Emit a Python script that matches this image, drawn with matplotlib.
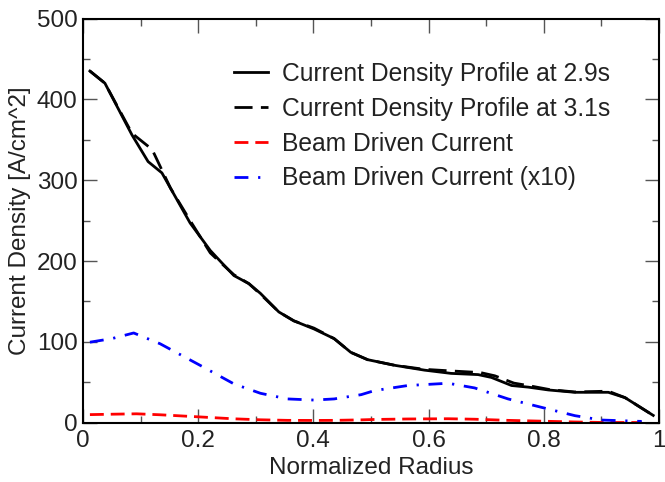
import matplotlib
matplotlib.use("Agg")
import matplotlib.pyplot as plt
from matplotlib.ticker import MultipleLocator, FuncFormatter

plt.rcParams['font.family'] = ['Liberation Sans', 'DejaVu Sans']

# Current density profile at 2.9s
r_29 = [0.012, 0.038, 0.085, 0.113, 0.137, 0.186, 0.221, 0.242, 0.262, 0.288, 0.308,
        0.340, 0.366, 0.401, 0.436, 0.465, 0.494, 0.541, 0.593, 0.639, 0.686, 0.709,
        0.744, 0.773, 0.808, 0.854, 0.912, 0.941, 0.990]
j_29 = [435, 420, 356, 323, 309, 247, 213, 197, 182, 172, 160,
        137, 126, 116, 104, 87, 78, 71, 65, 61, 59.5, 56,
        46, 44, 40.5, 37.6, 37.6, 31, 9]

# Current density profile at 3.1s
r_31 = [0.012, 0.038, 0.085, 0.120, 0.152, 0.186, 0.221, 0.242, 0.262, 0.288, 0.308,
        0.340, 0.366, 0.401, 0.436, 0.465, 0.494, 0.541, 0.593, 0.640, 0.690, 0.715,
        0.748, 0.780, 0.810, 0.854, 0.912, 0.941, 0.990]
j_31 = [435, 420, 358, 338, 290, 250, 210, 196, 183, 172, 159,
        137, 126, 117, 104, 87, 78, 71, 66, 64, 62, 58,
        49, 45, 41, 38, 39, 31, 9]

# Beam driven current
r_nb = [0.012, 0.05, 0.093, 0.134, 0.204, 0.262, 0.308, 0.355, 0.401, 0.436, 0.483,
        0.506, 0.564, 0.634, 0.680, 0.738, 0.796, 0.854, 0.900, 0.970]
j_nb = [10.0, 10.5, 11.0, 9.8, 7.1, 4.8, 3.6, 2.9, 2.8, 2.9, 3.5,
        4.0, 4.6, 4.9, 4.3, 2.9, 1.9, 0.9, 0.3, 0.2]

# Beam driven current (x10)
r_nb10 = [0.012, 0.05, 0.088, 0.134, 0.204, 0.262, 0.308, 0.355, 0.401, 0.436, 0.483,
          0.506, 0.564, 0.634, 0.680, 0.738, 0.796, 0.854, 0.900, 0.970]
j_nb10 = [99.6, 104, 111, 97.6, 70.7, 48, 36.4, 29.4, 28, 29.4, 34.7,
          39.7, 46, 48.8, 43, 29.4, 19, 8.7, 3.3, 1.6]

labels = ["Current Density Profile at 2.9s", "Current Density Profile at 3.1s",
          "Beam Driven Current", "Beam Driven Current (x10)"]

W, H = 665, 482
fig = plt.figure(figsize=(W / 100, H / 100), dpi=100)
L, R, T, B = 83, 659, 18.5, 422.7
ax = fig.add_axes([L / W, 1 - B / H, (R - L) / W, (B - T) / H])

ax.plot(r_29, j_29, color='black', lw=2.0, label=labels[0])
ax.plot(r_31, j_31, color='black', lw=2.0, dashes=(6.5, 3), label=labels[1])
ax.plot(r_nb, j_nb, color='red', lw=2.0, dashes=(5, 2.5), label=labels[2])
ax.plot(r_nb10, j_nb10, color='blue', lw=2.0, dashes=(5, 3.5, 0.8, 3.5), label=labels[3])

ax.set_xlim(0, 1)
ax.set_ylim(0, 500)
ax.xaxis.set_major_locator(MultipleLocator(0.2))
ax.xaxis.set_minor_locator(MultipleLocator(0.1))
ax.yaxis.set_major_locator(MultipleLocator(100))
ax.yaxis.set_minor_locator(MultipleLocator(50))
ax.xaxis.set_major_formatter(FuncFormatter(lambda v, p: f"{v:g}"))

ax.tick_params(which='both', direction='in', top=True, right=True,
               labelsize=17.5, color='#555555', width=1.0, labelcolor='#222222')
ax.tick_params(axis='x', which='both', pad=5)
ax.tick_params(axis='y', which='both', pad=4)
ax.tick_params(which='major', length=10)
ax.tick_params(which='minor', length=5)
for s in ax.spines.values():
    s.set_linewidth(1.5)

ax.set_xlabel("Normalized Radius", fontsize=17.5, color='#222222', labelpad=4)
ax.set_ylabel("Current Density [A/cm^2]", fontsize=17.5, color='#222222', labelpad=4)

leg = ax.legend(loc='upper left', bbox_to_anchor=((234 - L) / (R - L), (B - 62) / (B - T)),
                frameon=False, fontsize=17.7, handlelength=1.4, handletextpad=0.55,
                labelspacing=0.44, borderpad=0, borderaxespad=0)
for t in leg.get_texts():
    t.set_color('#222222')

fig.savefig("out.png", dpi=100)
